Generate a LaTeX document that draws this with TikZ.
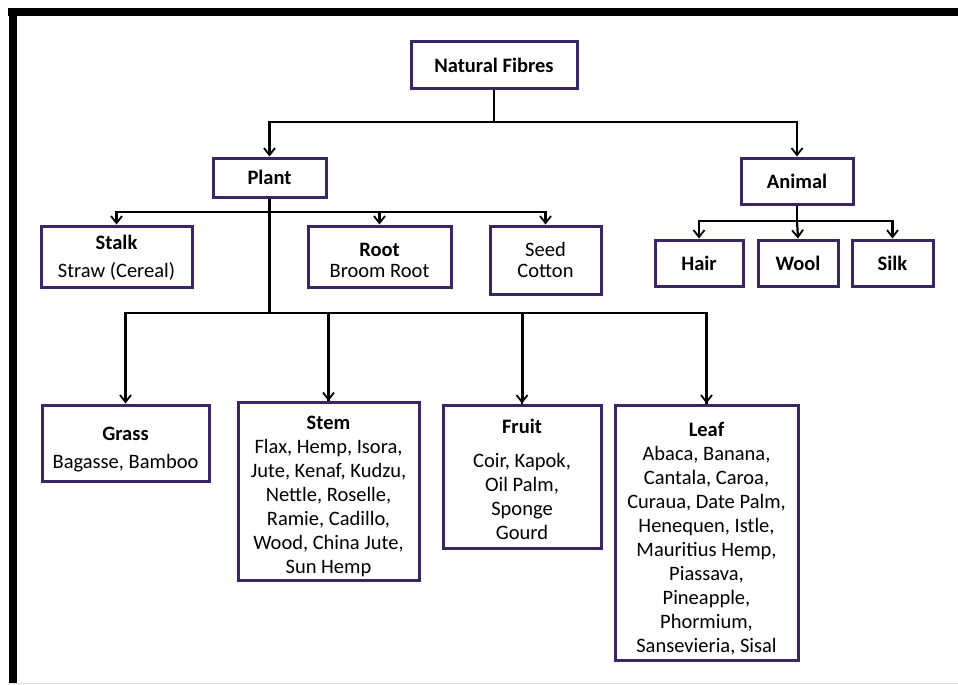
\documentclass[tikz,border=0pt]{standalone}
\usepackage{fontspec}
\setmainfont{Carlito}
\usetikzlibrary{arrows.meta}
\definecolor{boxline}{RGB}{58,38,98}
\definecolor{framegray}{RGB}{225,225,225}
\newcommand\bxt[2]{\begin{tabular}{@{}c@{}}\rule{0pt}{#1}#2\end{tabular}}
\tikzset{
  box/.style={draw=boxline, line width=3pt, fill=white, align=center, inner sep=0pt,
    font=\fontsize{20.5}{24}\selectfont},
  conn/.style={draw=black, line width=2.2pt, -{Straight Barb[length=7pt,width=11pt,line width=1.8pt]}},
  connthick/.style={conn, line width=3pt},
  plainline/.style={draw=black, line width=2.2pt}
}
\begin{document}
\begin{tikzpicture}[x=1pt,y=-1pt]
\useasboundingbox (0,0) rectangle (958,685);
% frame
\fill[black] (8,8) rectangle (958,16.5);
\fill[black] (8.5,8) rectangle (16.5,683);
\draw[framegray, line width=1pt] (8,683.5) -- (958,683.5);
% nodes
\node[box, minimum width=166, minimum height=46] (nf) at (494,65) {\bfseries Natural Fibres};
\node[box, minimum width=113, minimum height=39] (plant) at (269.5,177.5) {\bfseries Plant};
\node[box, minimum width=112, minimum height=46] (animal) at (797,181) {\bfseries Animal};
\node[box, minimum width=151, minimum height=61] (stalk) at (116.5,256.5) {\bxt{22pt}{\bfseries Stalk\\[4pt] Straw (Cereal)}};
\node[box, minimum width=143, minimum height=61] (root) at (379.5,256.5) {\bxt{28.8pt}{\bfseries Root\\[-3pt] Broom Root}};
\node[box, minimum width=111, minimum height=68] (seed) at (545.5,260) {\bxt{21pt}{Seed\\[-3pt] Cotton}};
\node[box, minimum width=88, minimum height=46] (hair) at (699,263) {\bfseries Hair};
\node[box, minimum width=80, minimum height=46] (wool) at (798,263) {\bfseries Wool};
\node[box, minimum width=81, minimum height=46] (silk) at (892.5,263) {\bfseries Silk};
\node[box, minimum width=167, minimum height=76] (grass) at (125.5,443) {\bxt{30.8pt}{\bfseries Grass\\[4pt] Bagasse, Bamboo}};
\node[box, minimum width=181, minimum height=173] (stem) at (328.5,491.5) {\bxt{26.8pt}{\bfseries Stem\\ Flax, Hemp, Isora,\\ Jute, Kenaf, Kudzu,\\ Nettle, Roselle,\\ Ramie, Cadillo,\\ Wood, China Jute,\\ Sun Hemp}};
\node[box, minimum width=158, minimum height=143] (fruit) at (522,476.5) {\bxt{26.8pt}{\bfseries Fruit\\[10pt] Coir, Kapok,\\ Oil Palm,\\ Sponge\\ Gourd}};
\node[box, minimum width=183, minimum height=255] (leaf) at (706.5,532.5) {\bxt{30.8pt}{\bfseries Leaf\\ Abaca, Banana,\\ Cantala, Caroa,\\ Curaua, Date Palm,\\ Henequen, Istle,\\ Mauritius Hemp,\\ Piassava,\\ Pineapple,\\ Phormium,\\ Sansevieria, Sisal}};
% junctions
\coordinate (j1) at (494,122);
\coordinate (j2) at (269.5,212);
\coordinate (j3) at (269.5,313);
\coordinate (j4) at (797,221);
% connectors
\draw[plainline] (nf.south) -- (j1);
\draw[conn] (j1) -| (plant.north);
\draw[conn] (j1) -| (animal.north);
\draw[plainline] (plant.south) -- (j3);
\draw[conn] (j2) -| (stalk.north);
\draw[conn] (j2) -| (root.north);
\draw[conn] (j2) -| (seed.north);
\draw[plainline] (animal.south) -- (j4);
\draw[conn] (j4) -| (hair.north);
\draw[conn] (j4) -- (wool.north);
\draw[conn] (j4) -| (silk.north);
\draw[conn] (j3) -| (grass.north);
\draw[plainline] (j3) -| (stem.north);
\draw[connthick] ([yshift=-1pt]stem.north |- j3) -- (stem.north);
\draw[plainline] (j3) -| (fruit.north);
\draw[connthick] ([yshift=-1pt]fruit.north |- j3) -- (fruit.north);
\draw[plainline] (j3) -| (leaf.north);
\draw[connthick] ([yshift=-1pt]leaf.north |- j3) -- (leaf.north);
\end{tikzpicture}
\end{document}
